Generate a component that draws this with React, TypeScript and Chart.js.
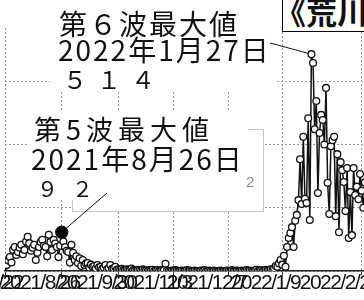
import React, { useEffect, useRef } from "react";
import { Chart, registerables } from "chart.js";

Chart.register(...registerables);

// ---- data (daily new cases, Arakawa ward) ----
const START_DATE = "2021/7/22";

// 2021/7/22 - 2021/9/30
const julSepCases = [
  12, 14, 25, 33, 20, 50, 57, 38, 45, 55, 62, 40, 50, 70, 81, 66, 48, 55, 62, 26,
  43, 57, 69, 74, 60, 57, 35, 86, 69, 50, 74, 65, 57, 33, 60, 92, 70, 57, 48, 45,
  20, 62, 43, 26, 35, 19, 30, 12, 26, 14, 18, 19, 8, 15, 10, 12, 6, 14, 9, 10,
  5, 8, 14, 4, 7, 14, 5, 6, 10, 3, 4,
];
// 2021/10/1 - 2021/10/31
const octCases = [
  3, 5, 2, 1, 4, 3, 2, 6, 2, 1, 0, 3, 2, 1, 4, 2, 1, 0, 2, 1, 3, 0, 1, 2, 0, 1, 3, 2, 17, 1, 0,
];
// 2021/11/1 - 2021/11/30
const novCases = [
  0, 1, 0, 2, 1, 0, 0, 1, 0, 0, 2, 0, 1, 0, 0, 1, 0, 0, 0, 1, 0, 2, 0, 0, 1, 0, 0, 1, 0, 0,
];
// 2021/12/1 - 2021/12/31
const decCases = [
  0, 1, 0, 0, 0, 1, 0, 0, 2, 0, 0, 1, 0, 0, 1, 0, 0, 2, 0, 1, 0, 0, 1, 3, 0, 1, 2, 0, 1, 3, 2,
];
// 2022/1/1 - 2022/1/31
const janCases = [
  3, 4, 2, 6, 12, 10, 18, 26, 15, 36, 10, 57, 78, 90, 104, 57, 119, 133, 168, 265,
  159, 318, 171, 161, 362, 121, 514, 493, 336, 403, 185,
];
// 2022/2/1 - 2022/3/1
const febMarCases = [
  327, 370, 358, 300, 434, 209, 135, 296, 310, 318, 130, 277, 92, 258, 239, 211,
  142, 244, 78, 187, 85, 244, 180, 200, 170, 230, 190, 150, 210,
];

const tickLabels = [
  "2021/7/22",
  "2021/8/26",
  "2021/9/30",
  "2021/11/3",
  "2021/12/7",
  "2022/1/9",
  "2022/2/27",
];

const peak5 = { date: "2021/8/26", value: 92 };
const peak6 = { date: "2022/1/27", value: 514 };

const dailyCases = [
  ...julSepCases,
  ...octCases,
  ...novCases,
  ...decCases,
  ...janCases,
  ...febMarCases,
];

function dayIndex(label: string): number {
  const [y, m, d] = label.split("/").map(Number);
  const [y0, m0, d0] = START_DATE.split("/").map(Number);
  return Math.round((Date.UTC(y, m - 1, d) - Date.UTC(y0, m0 - 1, d0)) / 86400000);
}

const tickDays = tickLabels.map(dayIndex);

// ---- layout ----
const OX = 100; // canvas is shifted left by this amount
const CANVAS_W = 524;
const GRID = "#9c9c9c";
const CJK = "'Noto Sans CJK JP', 'Noto Sans CJK SC', sans-serif";

const overlayPlugin = {
  id: "overlay",
  beforeDraw(chart: any) {
    // condensed look for the axis labels
    chart.ctx.letterSpacing = "-1.5px";
  },
  beforeDatasetsDraw(chart: any) {
    const ctx = chart.ctx;
    ctx.letterSpacing = "0px";
    ctx.save();
    ctx.fillStyle = "#fff";
    // annotation 1 background
    ctx.fillRect(OX + 50, 0, 226, 92);
    // legend-like grey box
    ctx.fillRect(OX + 72, 129, 191, 82);
    ctx.strokeStyle = "#c4c4c4";
    ctx.lineWidth = 1;
    ctx.strokeRect(OX + 72.5, 129.5, 191, 82);
    // annotation 2 background
    ctx.fillStyle = "#fff";
    ctx.fillRect(OX + 28, 112, 220, 66);
    ctx.fillRect(OX + 28, 178, 80, 22);
    ctx.restore();
  },
  afterDraw(chart: any) {
    const ctx = chart.ctx;
    const xs = chart.scales.x;
    const ys = chart.scales.y;
    const line = (ax: number, ay: number, px: number, py: number, r: number) => {
      const dx = px - ax;
      const dy = py - ay;
      const len = Math.hypot(dx, dy);
      const ex = px - (dx / len) * r;
      const ey = py - (dy / len) * r;
      ctx.beginPath();
      ctx.moveTo(ax, ay);
      ctx.lineTo(ex, ey);
      ctx.stroke();
    };
    ctx.save();
    ctx.strokeStyle = "#111";
    ctx.lineWidth = 1;
    line(
      OX + 270,
      43,
      xs.getPixelForValue(dayIndex(peak6.date)),
      ys.getPixelForValue(peak6.value),
      3.5
    );
    line(
      OX + 107,
      193,
      xs.getPixelForValue(dayIndex(peak5.date)),
      ys.getPixelForValue(peak5.value),
      6
    );
    ctx.restore();
  },
};

function CasesChart() {
  const ref = useRef<HTMLCanvasElement | null>(null);
  useEffect(() => {
    if (!ref.current) return;
    const peakIdx = dayIndex(peak5.date);
    const chart = new Chart(ref.current, {
      type: "line",
      data: {
        datasets: [
          {
            data: dailyCases.map((v, i) => ({ x: i, y: v })),
            borderColor: "#111",
            borderWidth: 1.5,
            tension: 0,
            pointRadius: (c: any) => (c.dataIndex === peakIdx ? 6 : 3.4),
            pointBackgroundColor: (c: any) => (c.dataIndex === peakIdx ? "#000" : "#fff"),
            pointBorderColor: "#111",
            pointBorderWidth: 1.3,
          },
        ],
      },
      options: {
        animation: false,
        responsive: true,
        maintainAspectRatio: false,
        layout: { padding: { left: OX + 5, right: 38, top: 28, bottom: 0 } },
        plugins: { legend: { display: false }, tooltip: { enabled: false } },
        scales: {
          x: {
            type: "linear",
            min: 0,
            max: 235,
            afterBuildTicks: (s: any) => {
              s.ticks = tickDays.map((v) => ({ value: v }));
            },
            afterFit: (s: any) => {
              s.height = 29;
            },
            ticks: {
              autoSkip: false,
              maxRotation: 0,
              minRotation: 0,
              padding: -4,
              align: "end",
              labelOffset: 18,
              color: "#111",
              font: { family: "'Liberation Sans Narrow', 'Arial Narrow', sans-serif", size: 21 },
              callback: (v: any) => {
                const k = tickDays.indexOf(Number(v));
                return k >= 0 ? tickLabels[k] : "";
              },
            },
            grid: { color: GRID, lineWidth: 1, drawTicks: true, tickLength: 4, tickColor: "#333" },
            border: { display: true, color: "#222", width: 1.5, dash: [2, 2] },
          },
          y: {
            min: 0,
            max: 576,
            ticks: { display: false, stepSize: 150, includeBounds: false },
            grid: { color: GRID, lineWidth: 1, drawTicks: false },
            border: { display: false, dash: [2, 2] },
          },
        },
      },
      plugins: [overlayPlugin],
    } as any);
    return () => chart.destroy();
  }, []);
  return <canvas ref={ref} />;
}

const abs = (s: React.CSSProperties): React.CSSProperties => ({
  position: "absolute",
  whiteSpace: "pre",
  fontFamily: CJK,
  color: "#111",
  margin: 0,
  ...s,
});

export default function App() {
  return (
    <div
      style={{
        position: "fixed",
        left: 0,
        top: 0,
        width: 364,
        height: 300,
        overflow: "hidden",
        background: "#fff",
      }}
    >
      <div style={{ position: "absolute", left: -OX, top: 0, width: CANVAS_W, height: 300 }}>
        <CasesChart />
      </div>

      {/* title box */}
      <div
        style={abs({
          left: 282,
          top: -10,
          width: 120,
          height: 40,
          border: "1.5px solid #000",
          background: "#fff",
          overflow: "hidden",
        })}
      >
        <div
          style={abs({
            left: -8,
            top: 0,
            fontSize: 31,
            fontWeight: 700,
            lineHeight: "40px",
            letterSpacing: 0,
          })}
        >
          《荒川
        </div>
      </div>

      {/* 6th wave annotation */}
      <div style={abs({ left: 59, top: 9, fontSize: 28, lineHeight: "28px", letterSpacing: 2 })}>
        第６波最大値
      </div>
      <div style={abs({ left: 58, top: 35, fontSize: 28, lineHeight: "28px", letterSpacing: 2 })}>
        2022年1月27日
      </div>
      <div style={abs({ left: 63, top: 66, fontSize: 24, lineHeight: "26px", letterSpacing: 10 })}>
        ５１４
      </div>

      {/* 5th wave annotation */}
      <div style={abs({ left: 34, top: 115, fontSize: 27, lineHeight: "28px", letterSpacing: 5 })}>
        第5波最大値
      </div>
      <div style={abs({ left: 31, top: 144, fontSize: 28, lineHeight: "28px", letterSpacing: 2 })}>
        2021年8月26日
      </div>
      <div style={abs({ left: 37, top: 176, fontSize: 21, lineHeight: "24px", letterSpacing: 14 })}>
        ９２
      </div>

      <div
        style={abs({
          left: 246,
          top: 173,
          fontSize: 15,
          lineHeight: "18px",
          color: "#8a8a8a",
          fontFamily: "'Liberation Sans', sans-serif",
        })}
      >
        2
      </div>
    </div>
  );
}
